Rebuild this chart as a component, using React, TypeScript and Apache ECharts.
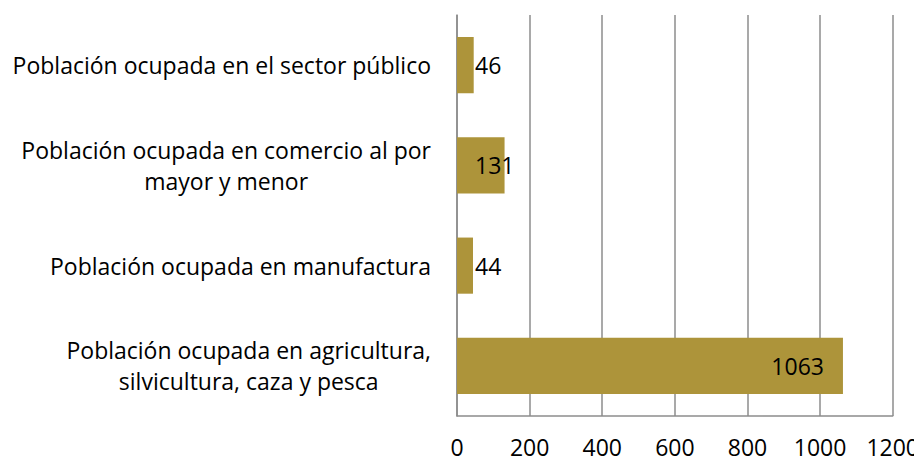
import React, { useEffect, useRef } from "react";
import * as echarts from "echarts";

const categories: string[] = [
  "Población ocupada en agricultura,\nsilvicultura, caza y pesca",
  "Población ocupada en manufactura",
  "Población ocupada en comercio al por\nmayor y menor",
  "Población ocupada en el sector público",
];
const values: number[] = [1063, 44, 131, 46];
const xTicks: number[] = [0, 200, 400, 600, 800, 1000, 1200];

const FONT = "'Open Sans', 'Noto Sans', sans-serif";
const FS = 23;

function measure(text: string): number {
  const c = document.createElement("canvas");
  const ctx = c.getContext("2d");
  if (!ctx) return text.length * 10;
  ctx.font = `${FS}px 'Open Sans'`;
  return ctx.measureText(text).width;
}

export default function App() {
  const ref = useRef<HTMLDivElement>(null);
  useEffect(() => {
    if (!ref.current) return;
    const chart = echarts.init(ref.current, null, { renderer: "svg" });
    const rich: Record<string, any> = {};
    categories.forEach((c, i) => {
      const w = Math.max(...c.split("\n").map(measure)) + 2;
      rich["c" + i] = {
        width: w,
        align: "center",
        fontSize: FS,
        fontFamily: FONT,
        color: "#000",
        lineHeight: 31,
      };
    });
    chart.setOption({
      animation: false,
      grid: { left: 449, right: 28, top: 7, bottom: 45, containLabel: false },
      xAxis: {
        type: "value",
        min: 0,
        max: xTicks[xTicks.length - 1],
        interval: 200,
        axisLine: { show: true, lineStyle: { color: "#8c8c8c", width: 1.5 } },
        axisTick: { show: false },
        splitLine: { show: true, lineStyle: { color: "#8c8c8c", width: 1.5 } },
        axisLabel: {
          fontSize: FS,
          fontFamily: FONT,
          color: "#000",
          margin: 19,
          showMinLabel: true,
          showMaxLabel: true,
          formatter: (v: number) => String(v),
        },
      },
      yAxis: {
        type: "category",
        data: categories,
        axisLine: { show: true, lineStyle: { color: "#8c8c8c", width: 1.5 } },
        axisTick: { show: false },
        axisLabel: {
          margin: 25,
          align: "right",
          formatter: (v: string) => {
            const i = categories.indexOf(v);
            return v
              .split("\n")
              .map((l) => `{c${i}|${l}}`)
              .join("\n");
          },
          rich,
        },
      },
      series: [
        {
          type: "bar",
          data: values.map((v) => ({
            value: v,
            label:
              v > 500
                ? { position: "insideRight", distance: 19 }
                : { position: "insideLeft", distance: 18 },
          })),
          barCategoryGap: "44%",
          itemStyle: { color: "#AD943A" },
          label: {
            show: true,
            fontSize: FS,
            fontFamily: FONT,
            color: "#000",
          },
        },
      ],
    });
    return () => chart.dispose();
  }, []);
  return <div ref={ref} style={{ width: 914, height: 453 }} />;
}
